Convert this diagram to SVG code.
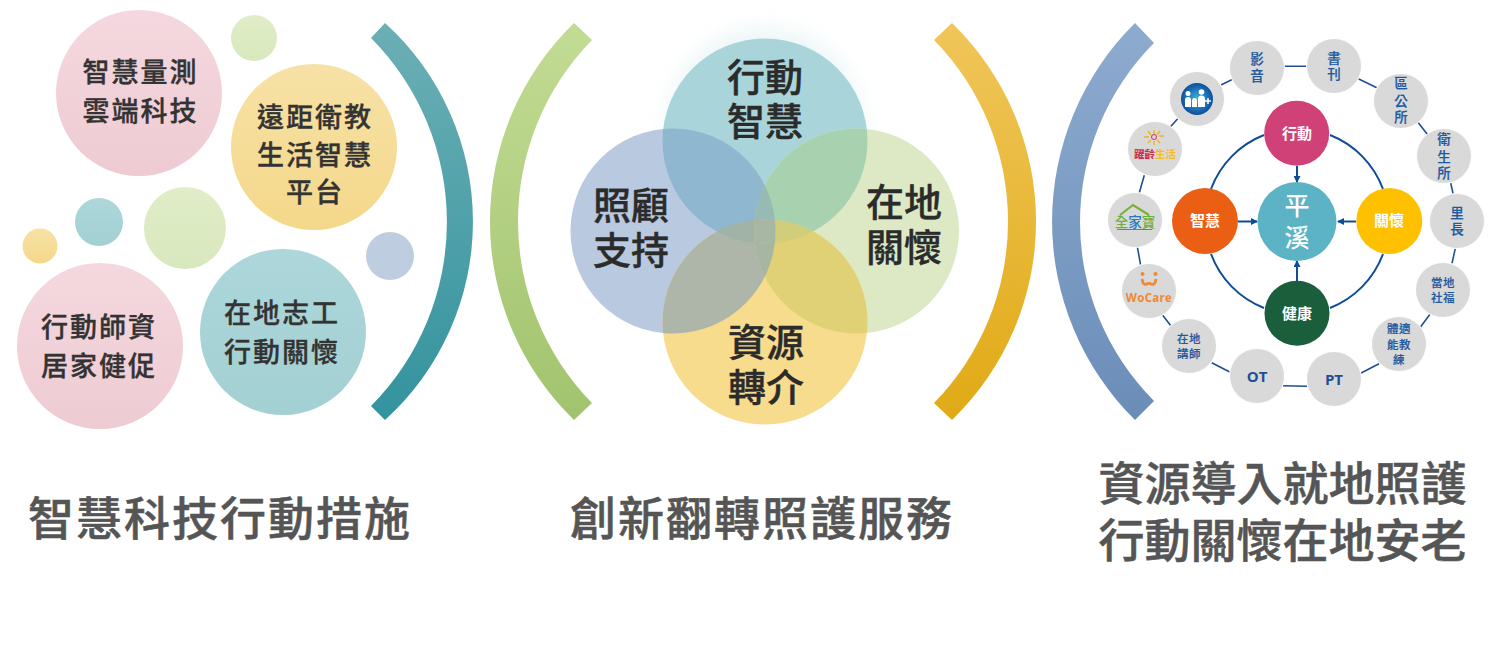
<svg xmlns="http://www.w3.org/2000/svg" width="1491" height="659" viewBox="0 0 1491 659">
<style>
text{font-family:"Noto Sans CJK TC","Noto Sans CJK SC","Noto Sans",sans-serif;text-anchor:middle}
.l1{font-size:27px;font-weight:500;fill:#333;stroke:#333;stroke-width:.35px;letter-spacing:2px}
.v{font-size:38px;font-weight:500;fill:#2b2b2b;stroke:#2b2b2b;stroke-width:.4px}
.t{font-size:46px;font-weight:500;fill:#555;stroke:#555;stroke-width:.5px;letter-spacing:2px}
.t3{font-size:46px;font-weight:500;fill:#555;stroke:#555;stroke-width:.5px}
.s{font-size:13.500px;font-weight:500;fill:#1f5a9e;stroke:#1f5a9e;stroke-width:.2px}
.s2{font-size:11.500px;font-weight:500;fill:#1f5a9e;stroke:#1f5a9e;stroke-width:.2px;letter-spacing:.5px}
.w{font-size:15px;font-weight:700;fill:#fff}
.o{fill:#d9d9d9;stroke:#fff;stroke-width:1}
.ring{fill:none;stroke:#1f4f96;stroke-width:1.600}
.in{fill:none;stroke:#0f4c97;stroke-width:2}
.lat{font-family:"Open Sans","Liberation Sans",sans-serif;font-size:15px;font-weight:700;fill:#1f4f96}
</style>
<defs>
<linearGradient id="gT" x1="0" y1="0" x2="0" y2="1"><stop offset="0" stop-color="#6cafb5"/><stop offset="1" stop-color="#33939e"/></linearGradient>
<linearGradient id="gG" x1="0" y1="0" x2="0" y2="1"><stop offset="0" stop-color="#c2dc94"/><stop offset="1" stop-color="#a2c36e"/></linearGradient>
<linearGradient id="gY" x1="0" y1="0" x2="0" y2="1"><stop offset="0" stop-color="#f0c65a"/><stop offset="1" stop-color="#e0aa16"/></linearGradient>
<linearGradient id="gB" x1="0" y1="0" x2="0" y2="1"><stop offset="0" stop-color="#8eabcf"/><stop offset="1" stop-color="#6a8db8"/></linearGradient>
<linearGradient id="bP" x1="0" y1="0" x2="0" y2="1"><stop offset="0" stop-color="#f5d8df"/><stop offset="1" stop-color="#eecbd3"/></linearGradient>
<linearGradient id="bY" x1="0" y1="0" x2="0" y2="1"><stop offset="0" stop-color="#f7e1a6"/><stop offset="1" stop-color="#f4d88a"/></linearGradient>
<linearGradient id="bT" x1="0" y1="0" x2="0" y2="1"><stop offset="0" stop-color="#add7da"/><stop offset="1" stop-color="#a3d0d3"/></linearGradient>
<linearGradient id="bG" x1="0" y1="0" x2="0" y2="1"><stop offset="0" stop-color="#e0edc8"/><stop offset="1" stop-color="#d8e8bd"/></linearGradient>
<radialGradient id="gM"><stop offset="0" stop-color="#3fb4dc"/><stop offset="1" stop-color="#0d4f9e"/></radialGradient>
<filter id="blur" x="-30%" y="-30%" width="160%" height="160%"><feGaussianBlur stdDeviation="10"/></filter>
<marker id="ah" markerWidth="7" markerHeight="7" refX="6" refY="3.500" orient="auto" markerUnits="userSpaceOnUse"><path d="M0 0L7 3.500L0 7z" fill="#0f4c97"/></marker>
<circle id="cT" cx="765" cy="141" r="102.500"/>
<circle id="cL" cx="673" cy="231" r="102.500"/>
<circle id="cR" cx="856.500" cy="231" r="102.500"/>
<circle id="cB" cx="765" cy="322" r="102.500"/>
<clipPath id="pT"><use href="#cT"/></clipPath>
<clipPath id="pL"><use href="#cL"/></clipPath>
<clipPath id="pR"><use href="#cR"/></clipPath>
<clipPath id="pB"><use href="#cB"/></clipPath>
</defs>

<g id="arc-teal"><path d="M385 23A268 268 0 0 1 385 420L371 406A261 261 0 0 0 371 38z" fill="url(#gT)"/></g>
<g id="arc-green"><path d="M574 23A276.500 276.500 0 0 0 574 420L592 403A259.600 259.600 0 0 1 592 40z" fill="url(#gG)"/></g>
<g id="arc-yellow"><path d="M952 23A276.500 276.500 0 0 1 952 420L934 403A259.600 259.600 0 0 0 934 40z" fill="url(#gY)"/></g>
<g id="arc-blue"><path d="M1135 23A279 279 0 0 0 1135 420L1154 401A253.500 253.500 0 0 1 1154 43z" fill="url(#gB)"/></g>

<g id="bubbles">
<g id="b-liangce"><circle cx="139" cy="93" r="83" fill="url(#bP)"/><text class="l1" x="140.500" y="82">智慧量測</text><text class="l1" x="140.500" y="121">雲端科技</text></g>
<circle id="b-dot1" cx="254" cy="38" r="23" fill="url(#bG)"/>
<g id="b-yuanju"><circle cx="314" cy="147" r="83" fill="url(#bY)"/><text class="l1" x="315" y="127">遠距衛教</text><text class="l1" x="315" y="165">生活智慧</text><text class="l1" x="315" y="202">平台</text></g>
<circle id="b-dot2" cx="99" cy="222" r="24" fill="url(#bT)"/>
<circle id="b-dot3" cx="185" cy="228" r="41" fill="url(#bG)"/>
<circle id="b-dot4" cx="40" cy="246" r="17.500" fill="url(#bY)"/>
<circle id="b-dot5" cx="390" cy="256" r="24" fill="#bfcde0"/>
<g id="b-shizi"><circle cx="100" cy="346" r="83" fill="url(#bP)"/><text class="l1" x="99" y="337">行動師資</text><text class="l1" x="99" y="376">居家健促</text></g>
<g id="b-zhigong"><circle cx="283" cy="332" r="83" fill="url(#bT)"/><text class="l1" x="282" y="323">在地志工</text><text class="l1" x="282" y="362">行動關懷</text></g>
</g>

<g id="venn">
<circle cx="765" cy="125" r="98" fill="#a8d4d8" opacity=".2" filter="url(#blur)"/>
<use id="v-left" href="#cL" fill="#b8c9e0"/>
<use id="v-top" href="#cT" fill="#a9d5da"/>
<use id="v-right" href="#cR" fill="#dde9c4"/>
<use id="v-bottom" href="#cB" fill="#f7dc8e"/>
<g clip-path="url(#pT)"><use href="#cL" fill="#8fb7d0"/><use href="#cR" fill="#a8d2af"/></g>
<g clip-path="url(#pB)"><use href="#cL" fill="#aeb5a9"/><use href="#cR" fill="#e1d176"/></g>
<g clip-path="url(#pL)"><g clip-path="url(#pR)"><use href="#cT" fill="#97bab5"/><use href="#cB" fill="#a7b5a3"/></g></g>
<g clip-path="url(#pT)"><g clip-path="url(#pB)"><use href="#cL" fill="#a1b3a6"/><use href="#cR" fill="#d0ce7b"/></g></g>
<g clip-path="url(#pT)"><g clip-path="url(#pB)"><g clip-path="url(#pL)"><use href="#cR" fill="#a7b7a4"/></g></g></g>
<text class="v" x="765" y="91">行動</text><text class="v" x="765" y="134.500">智慧</text>
<text class="v" x="631" y="219">照顧</text><text class="v" x="631" y="264">支持</text>
<text class="v" x="904" y="216">在地</text><text class="v" x="904" y="261">關懷</text>
<text class="v" x="766" y="356">資源</text><text class="v" x="766" y="401">轉介</text>
</g>

<g id="connectors">
<path class="ring" d="M1284 66.300L1307 66.300M1358.300 78.700L1377.300 88M1417.700 122L1427.700 134.700M1450.700 183L1453.300 194.700M1455.300 248.300L1452 263.300M1430 314.300L1420.300 327.300M1379 363.700L1360.700 373.300M1307.300 386.300L1282.700 385.700M1230.300 372.300L1211.700 362.700M1171 326L1162.700 315.300M1140.700 265.300L1137.300 246.700M1139.300 192.700L1144.300 175.300M1170.300 127L1177.700 118.700M1221 85L1232.700 79.300"/>
<path class="in" d="M1264 135A92.500 92.500 0 0 0 1211 189M1330 135A92.500 92.500 0 0 1 1383 189M1211 254A92.500 92.500 0 0 0 1264 308M1383 254A92.500 92.500 0 0 1 1330 308"/>
<path class="in" marker-end="url(#ah)" d="M1297 166L1297 182"/>
<path class="in" marker-end="url(#ah)" d="M1238 221.500L1257 221.500"/>
<path class="in" marker-end="url(#ah)" d="M1356 221.500L1338 221.500"/>
<path class="in" marker-end="url(#ah)" d="M1297 281L1297 261"/>
</g>

<g id="n-yingyin"><circle class="o" cx="1257" cy="68" r="27.500"/><text class="s" x="1257" y="63.500">影</text><text class="s" x="1257" y="81">音</text></g>
<g id="n-shukan"><circle class="o" cx="1334" cy="66" r="27.500"/><text class="s" x="1334" y="62.500">書</text><text class="s" x="1334" y="79">刊</text></g>
<g id="n-qugongsuo"><circle class="o" cx="1401" cy="101" r="27.500"/><text class="s" x="1401" y="88">區</text><text class="s" x="1401" y="105.500">公</text><text class="s" x="1401" y="122">所</text></g>
<g id="n-weishengsuo"><circle class="o" cx="1444" cy="156" r="27.500"/><text class="s" x="1444" y="144">衛</text><text class="s" x="1444" y="161.500">生</text><text class="s" x="1444" y="178">所</text></g>
<g id="n-lizhang"><circle class="o" cx="1457" cy="221" r="27.500"/><text class="s" x="1457" y="217.500">里</text><text class="s" x="1457" y="234">長</text></g>
<g id="n-shefu"><circle class="o" cx="1443" cy="290" r="27.500"/><text class="s2" x="1443" y="287">當地</text><text class="s2" x="1443" y="301.500">社福</text></g>
<g id="n-tishi"><circle class="o" cx="1399" cy="344" r="27.500"/><text class="s2" x="1399" y="333">體適</text><text class="s2" x="1399" y="349">能教</text><text class="s2" x="1399" y="363.500">練</text></g>
<g id="n-pt"><circle class="o" cx="1334" cy="379" r="27.500"/><text class="lat" x="1334" y="384.500">PT</text></g>
<g id="n-ot"><circle class="o" cx="1257" cy="376" r="27.500"/><text class="lat" x="1257" y="381.500">OT</text></g>
<g id="n-jiangshi"><circle class="o" cx="1189" cy="346" r="27.500"/><text class="s2" x="1189" y="343">在地</text><text class="s2" x="1189" y="357.500">講師</text></g>
<g id="n-wocare"><circle class="o" cx="1149" cy="291" r="27.500"/>
<path d="M1142 279q1 7 5 5q2-1 2-2q0 1 2 2q4 2 5-5" fill="none" stroke="#ee8a33" stroke-width="2.800"/><circle cx="1142.500" cy="274" r="2" fill="#ee8a33"/><circle cx="1155.500" cy="274" r="2" fill="#ee8a33"/>
<text x="1149" y="301.500" style="font-family:'Open Sans','Liberation Sans',sans-serif;font-size:11.500px;font-weight:700;fill:#ee8a33;letter-spacing:.3px">WoCare</text></g>
<g id="n-quanjia"><circle class="o" cx="1135" cy="220" r="27.500"/>
<path d="M1120 215L1133 205L1149 215" fill="none" stroke="#7aaf3c" stroke-width="2.200"/>
<text x="1135" y="227" style="font-size:13.500px;font-weight:500;fill:#6fae3a">全<tspan fill="#1f7ac0">家</tspan>寶</text>
<path d="M1117 229.500H1152" stroke="#3a8fc0" stroke-width="1"/></g>
<g id="n-yueling"><circle class="o" cx="1155" cy="149" r="27.500"/>
<path d="M1154 130V134M1154 141V145M1144 137H1149M1159 136H1164M1148 131L1151 135M1160 131L1157 135M1148 143L1151 140M1160 143L1157 140" stroke="#f0b51e" stroke-width="1.500"/><circle cx="1154" cy="137" r="2.500" fill="none" stroke="#d03060" stroke-width="1"/>
<text x="1155" y="158" style="font-size:10.500px;font-weight:700;fill:#cf2a4c">躍齡<tspan fill="#f4bd1f">生活</tspan></text></g>
<g id="n-mplus"><circle class="o" cx="1197" cy="99" r="27.500"/><circle cx="1197" cy="99" r="16" fill="url(#gM)"/>
<path d="M1185 107v-7q0-3 3-3t3 3v7zM1192 107v-6q0-3 2.500-3t2.500 3v6zM1198 107v-8q0-3.500 3.500-3.500t3.500 3.500v8z" fill="#fff"/><circle cx="1188" cy="93.500" r="2.500" fill="#fff"/><circle cx="1201.500" cy="92" r="2.800" fill="#fff"/><path d="M1205 101h6M1208 98v6" stroke="#fff" stroke-width="1.500"/></g>

<g id="c-xingdong"><circle cx="1296.700" cy="133.300" r="32.500" fill="#d04178"/><text class="w" x="1297" y="138.500">行動</text></g>
<g id="c-zhihui"><circle cx="1205" cy="221" r="33" fill="#ea5f13"/><text class="w" x="1205" y="226">智慧</text></g>
<g id="c-guanhuai"><circle cx="1389.300" cy="221" r="33" fill="#ffc000"/><text class="w" x="1389" y="226">關懷</text></g>
<g id="c-jiankang"><circle cx="1297" cy="313.300" r="32.500" fill="#1b5e3c"/><text class="w" x="1297" y="318.500">健康</text></g>
<g id="c-pingxi"><circle cx="1297" cy="221.500" r="39.500" fill="#5bb3c5"/><text x="1297" y="215" style="font-size:25px;font-weight:500;fill:#fff">平</text><text x="1297" y="247" style="font-size:25px;font-weight:500;fill:#fff">溪</text></g>

<g id="titles">
<text class="t" x="220" y="534.500">智慧科技行動措施</text>
<text class="t" x="762" y="534.500">創新翻轉照護服務</text>
<text class="t3" x="1282.500" y="500">資源導入就地照護</text>
<text class="t3" x="1282.500" y="557">行動關懷在地安老</text>
</g>
</svg>
